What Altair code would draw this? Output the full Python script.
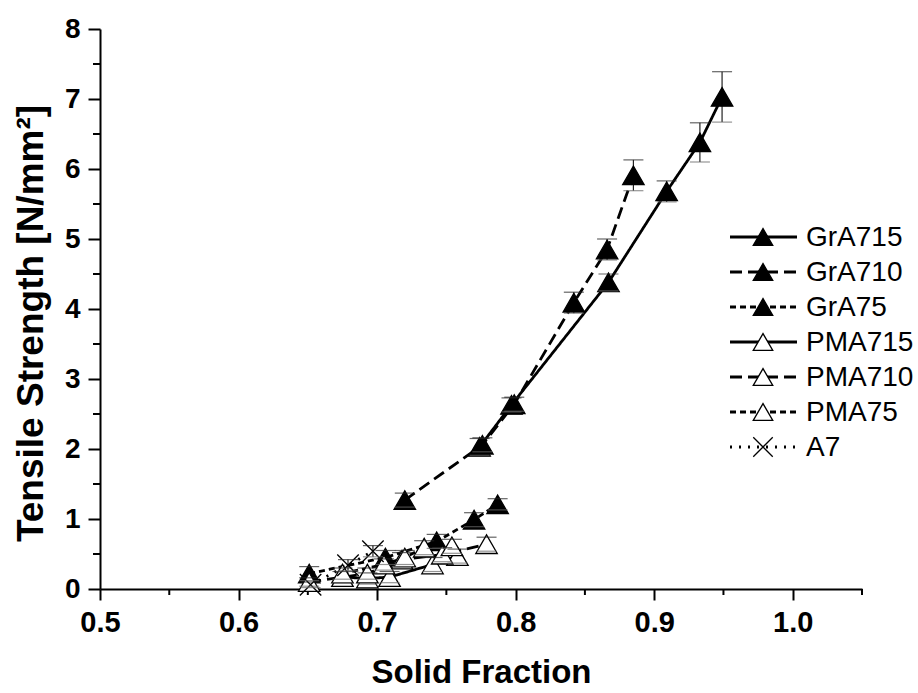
import altair as alt
import pandas as pd

# ---------------- data ----------------
names = ["GrA715", "GrA710", "GrA75", "PMA715", "PMA710", "PMA75", "A7"]

gra715_x = [0.774, 0.797, 0.867, 0.909, 0.933, 0.949]
gra715_y = [2.03, 2.63, 4.38, 5.68, 6.38, 7.03]
gra715_e = [0.12, 0.10, 0.12, 0.15, 0.28, 0.36]

gra710_x = [0.720, 0.776, 0.799, 0.842, 0.866, 0.885]
gra710_y = [1.27, 2.06, 2.64, 4.09, 4.85, 5.91]
gra710_e = [0.10, 0.10, 0.10, 0.15, 0.15, 0.22]

gra75_x = [0.651, 0.706, 0.743, 0.770, 0.787]
gra75_y = [0.22, 0.45, 0.68, 0.99, 1.21]
gra75_e = [0.10, 0.10, 0.10, 0.10, 0.08]

pma715_x = [0.675, 0.693, 0.709, 0.740, 0.758]
pma715_y = [0.17, 0.15, 0.17, 0.35, 0.47]
pma715_e = [0.08, 0.08, 0.08, 0.10, 0.10]

pma710_x = [0.651, 0.693, 0.718, 0.747, 0.779]
pma710_y = [0.10, 0.22, 0.42, 0.49, 0.64]
pma710_e = [0.06, 0.08, 0.10, 0.10, 0.10]

pma75_x = [0.675, 0.705, 0.720, 0.734, 0.754]
pma75_y = [0.22, 0.35, 0.45, 0.59, 0.61]
pma75_e = [0.08, 0.08, 0.10, 0.10, 0.10]

a7_x = [0.652, 0.679, 0.697]
a7_y = [0.06, 0.34, 0.54]
a7_e = [0.04, 0.08, 0.08]

x_major = [0.5, 0.6, 0.7, 0.8, 0.9, 1.0]
x_minor = [0.55, 0.65, 0.75, 0.85, 0.95, 1.05]
y_major = [0, 1, 2, 3, 4, 5, 6, 7, 8]
y_minor = [0.5, 1.5, 2.5, 3.5, 4.5, 5.5, 6.5, 7.5]

series = [
    ("GrA715", gra715_x, gra715_y, gra715_e),
    ("GrA710", gra710_x, gra710_y, gra710_e),
    ("GrA75", gra75_x, gra75_y, gra75_e),
    ("PMA715", pma715_x, pma715_y, pma715_e),
    ("PMA710", pma710_x, pma710_y, pma710_e),
    ("PMA75", pma75_x, pma75_y, pma75_e),
    ("A7", a7_x, a7_y, a7_e),
]

rows = []
for name, xs, ys, es in series:
    for i, (x, y, e) in enumerate(zip(xs, ys, es)):
        rows.append({"series": name, "x": x, "y": y, "lo": y - e, "hi": y + e, "ord": i})
df = pd.DataFrame(rows)

leg = pd.DataFrame({"series": names, "idx": list(range(len(names)))})
xminor_df = pd.DataFrame({"x": x_minor})
yminor_df = pd.DataFrame({"y": y_minor})

# ---------------- styles ----------------
W, H = 762, 560
dashes = [[1, 0], [12, 6], [6, 4], [1, 0], [12, 6], [6, 4], [2, 7]]
xpath = "M-1,-1L1,1M-1,1L1,-1"
shapes = ["triangle-up"] * 6 + [xpath]
fills = ["black", "black", "black", "white", "white", "white", "transparent"]

FONT = "Liberation Sans"

xscale = alt.Scale(domain=[0.5, 1.05], nice=False, zero=False)
yscale = alt.Scale(domain=[0, 8], nice=False)

dash_enc = alt.StrokeDash("series:N", scale=alt.Scale(domain=names, range=dashes), legend=None)
shape_enc = alt.Shape("series:N", scale=alt.Scale(domain=names, range=shapes), legend=None)
fill_enc = alt.Fill("series:N", scale=alt.Scale(domain=names, range=fills), legend=None)

xaxis = alt.Axis(values=x_major, format=".1f", title="Solid Fraction", grid=False,
                 orient="bottom", labelFlush=False,
                 labelFont=FONT, labelFontWeight="bold", labelFontSize=29, labelColor="black",
                 labelPadding=8, tickSize=11, tickWidth=2, tickColor="black",
                 domainColor="black", domainWidth=2,
                 titleFont=FONT, titleFontWeight="bold", titleFontSize=33, titleColor="black",
                 titlePadding=19)
yaxis = alt.Axis(values=y_major, format="d", title="Tensile Strength [N/mm²]", grid=False,
                 orient="left", labelFlush=False,
                 labelFont=FONT, labelFontWeight="bold", labelFontSize=28, labelColor="black",
                 labelPadding=8, tickSize=12, tickWidth=2, tickColor="black",
                 domainColor="black", domainWidth=2,
                 titleFont=FONT, titleFontWeight="bold", titleFontSize=37, titleColor="black",
                 titlePadding=14, titleY=294)

base = alt.Chart(df)

lines = base.mark_line(color="black", strokeWidth=2.8).encode(
    x=alt.X("x:Q", scale=xscale, axis=xaxis),
    y=alt.Y("y:Q", scale=yscale, axis=yaxis),
    detail="series:N",
    order="ord:Q",
    strokeDash=dash_enc,
)

points = base.mark_point(size=460, stroke="black", strokeWidth=1.3, opacity=1,
                         filled=False).encode(
    x="x:Q", y="y:Q", shape=shape_enc, fill=fill_enc,
)

ebar = base.mark_rule(color="#222", strokeWidth=1.2).encode(
    x="x:Q", y="lo:Q", y2="hi:Q",
)
cap_hi = base.mark_tick(color="#222", thickness=1.2, size=20, orient="horizontal").encode(
    x="x:Q", y="hi:Q")
cap_lo = base.mark_tick(color="#666", thickness=1.2, size=20, orient="horizontal").encode(
    x="x:Q", y="lo:Q")

# minor ticks
xminor = alt.Chart(xminor_df).mark_rule(color="black", strokeWidth=2).encode(
    x="x:Q", y=alt.value(H), y2=alt.value(H + 6))
yminor = alt.Chart(yminor_df).mark_rule(color="black", strokeWidth=2).encode(
    y="y:Q", x=alt.value(0), x2=alt.value(-7))

# legend (manual)
lg = alt.Chart(leg).transform_calculate(ly="208 + 35 * datum.idx")
leg_line = lg.mark_rule(color="black", strokeWidth=2.8).encode(
    x=alt.value(630), x2=alt.value(697),
    y=alt.Y("ly:Q", scale=None),
    strokeDash=dash_enc,
)
leg_pt = lg.mark_point(size=380, stroke="black", strokeWidth=1.3, opacity=1, filled=False).encode(
    x=alt.value(663), y=alt.Y("ly:Q", scale=None), shape=shape_enc, fill=fill_enc,
)
leg_txt = lg.mark_text(align="left", baseline="middle", font=FONT, fontSize=28, color="black",
                       dy=1).encode(
    x=alt.value(706), y=alt.Y("ly:Q", scale=None), text="series:N",
)

chart = alt.layer(
    lines, xminor, yminor, ebar, points, cap_hi, cap_lo, leg_line, leg_pt, leg_txt
).properties(
    width=W, height=H,
    background="white",
    autosize=alt.AutoSizeParams(type="none"),
    padding={"left": 100, "top": 29, "right": 56, "bottom": 104},
).configure_view(stroke=None)

chart.save("out.html", embed_options={"renderer": "svg", "actions": False})
